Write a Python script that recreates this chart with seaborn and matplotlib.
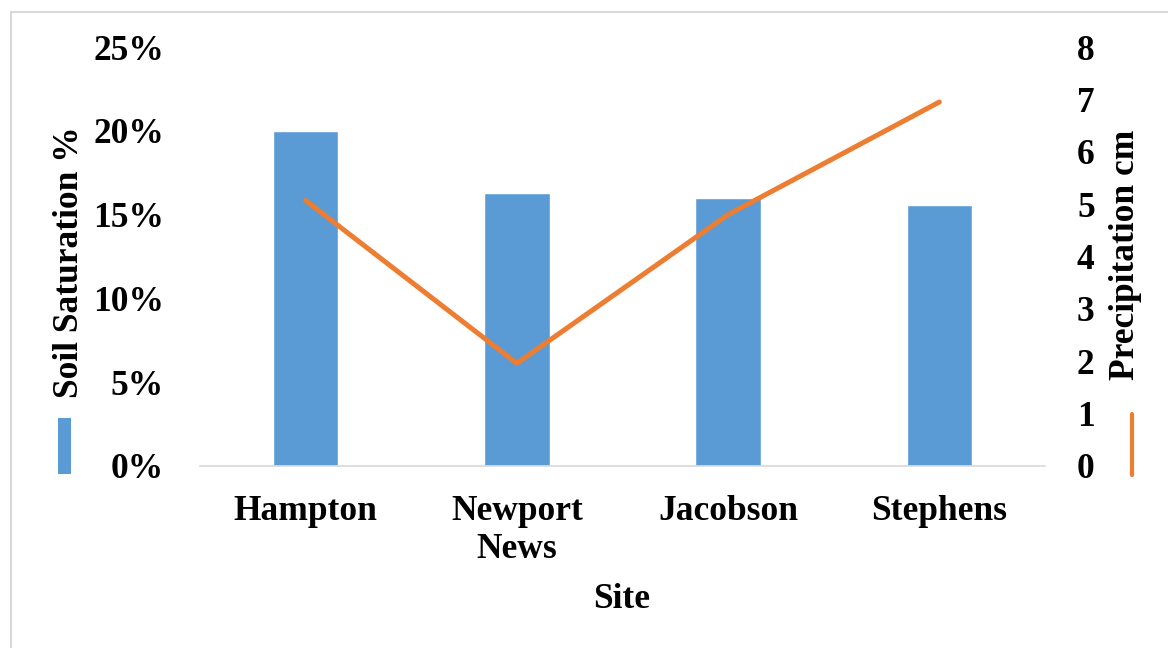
import numpy as np
import pandas as pd
import seaborn as sns
import matplotlib.pyplot as plt
from matplotlib.patches import Rectangle
from matplotlib.lines import Line2D
from matplotlib.ticker import FuncFormatter

# data
sites = ["Hampton", "Newport\nNews", "Jacobson", "Stephens"]
saturation = [0.20, 0.163, 0.160, 0.156]
precip = [5.07, 1.96, 4.80, 6.95]

BLUE = "#5B9BD5"
ORANGE = "#ED7D31"

sns.set_style("white")
plt.rcParams['font.family'] = ['Liberation Serif', 'DejaVu Serif']
plt.rcParams['font.weight'] = 'bold'
plt.rcParams['text.color'] = 'black'
plt.rcParams['xtick.color'] = 'black'
plt.rcParams['ytick.color'] = 'black'
FS = 25.5

df = pd.DataFrame({"site": sites, "sat": saturation, "precip": precip})

fig = plt.figure(figsize=(11.68, 6.48), dpi=100)
ax = fig.add_axes([200 / 1168, 1 - 466 / 648, 845 / 1168, 419 / 648])

sns.barplot(data=df, x="site", y="sat", color=BLUE, width=0.31, saturation=1, ax=ax)
ax.set_ylim(0, 0.25)
ax.set_xlim(-0.5, 3.5)
ax.set_yticks(np.arange(0, 0.26, 0.05))
ax.yaxis.set_major_formatter(FuncFormatter(lambda v, p: f"{v * 100:.0f}%"))
ax.tick_params(axis="y", length=0, pad=26, labelsize=FS)
ax.tick_params(axis="x", length=0, pad=21, labelsize=FS)
for t in ax.get_xticklabels():
    t.set_fontweight("bold")
    t.set_linespacing(1.2)
for t in ax.get_yticklabels():
    t.set_fontweight("bold")
ax.set_xlabel("")
ax.set_ylabel("")
for s in ["top", "right", "left"]:
    ax.spines[s].set_visible(False)
ax.spines["bottom"].set_color("#d9d9d9")
ax.spines["bottom"].set_linewidth(1.2)

ax2 = ax.twinx()
sns.lineplot(x=np.arange(len(sites)), y=precip, color=ORANGE, linewidth=3.6, ax=ax2)
ax2.set_ylim(0, 8)
ax2.set_yticks(range(0, 9))
ax2.tick_params(axis="y", length=0, pad=23, labelsize=FS)
for t in ax2.get_yticklabels():
    t.set_fontweight("bold")
for s in ax2.spines.values():
    s.set_visible(False)

# axis titles
fig.text(70 / 1168, 1 - 262 / 648, "Soil Saturation %", rotation=90, ha="center", va="center",
         fontsize=FS, fontweight="bold")
fig.text(1126 / 1168, 1 - 255 / 648, "Precipitation cm", rotation=90, ha="center", va="center",
         fontsize=FS, fontweight="bold")
fig.text(622 / 1168, 1 - 600 / 648, "Site", ha="center", va="center", fontsize=FS, fontweight="bold")

# small legend keys next to the axis titles
fig.patches.append(Rectangle((58 / 1168, 1 - 474 / 648), 13 / 1168, 56 / 648,
                             transform=fig.transFigure, facecolor=BLUE, edgecolor="none"))
fig.lines.append(Line2D([1132 / 1168, 1132 / 1168], [1 - 475 / 648, 1 - 414 / 648],
                        transform=fig.transFigure, color=ORANGE, linewidth=3, solid_capstyle="round"))

# chart area border
fig.patches.append(Rectangle((11 / 1168, -0.1), 1.2, 1.1 - 12 / 648, transform=fig.transFigure,
                             facecolor="none", edgecolor="#d9d9d9", linewidth=1.5))

fig.savefig("out.png", dpi=100)
